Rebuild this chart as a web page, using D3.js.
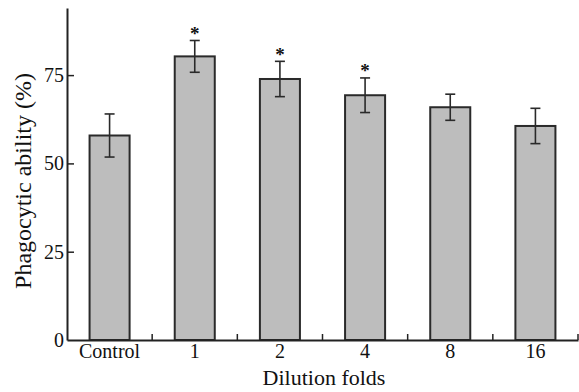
<!DOCTYPE html>
<html>
<head>
<meta charset="utf-8">
<script src="https://cdn.jsdelivr.net/npm/d3@7"></script>
<style>
  body { margin: 0; background: #fff; }
</style>
</head>
<body>
<svg id="chart" width="579" height="392"></svg>
<script>
// values
var categories = ["Control", "1", "2", "4", "8", "16"];
var means = [57.9, 80.3, 73.9, 69.3, 65.9, 60.6];
var errors = [6.1, 4.5, 5.0, 4.9, 3.7, 5.0];
var marked = [false, true, true, true, false, false];
var yTicks = [0, 25, 50, 75];

var serif = "'Liberation Serif', 'Times New Roman', 'DejaVu Serif', serif";

var rows = categories.map(function(c, i) {
  return { cat: c, mean: means[i], err: errors[i], star: marked[i] };
});

var svg = d3.select("#chart");

var x = d3.scaleBand()
    .domain(categories)
    .range([67, 578]);

var y = d3.scaleLinear()
    .domain([0, 94])
    .range([340, 8]);

var barW = x.bandwidth() * 0.47;
function cx(d) { return x(d.cat) + x.bandwidth() / 2; }

// bars
svg.selectAll("rect.bar")
    .data(rows)
    .enter().append("rect")
    .attr("class", "bar")
    .attr("x", function(d) { return cx(d) - barW / 2; })
    .attr("y", function(d) { return y(d.mean); })
    .attr("width", barW)
    .attr("height", function(d) { return y(0) - y(d.mean); })
    .attr("fill", "#bdbdbd")
    .attr("stroke", "#2a2a2a")
    .attr("stroke-width", 2);

// error bars
var eb = svg.selectAll("g.err")
    .data(rows)
    .enter().append("g")
    .attr("class", "err")
    .attr("stroke", "#2a2a2a")
    .attr("stroke-width", 1.6);

eb.append("line")
    .attr("x1", cx).attr("x2", cx)
    .attr("y1", function(d) { return y(d.mean + d.err); })
    .attr("y2", function(d) { return y(d.mean - d.err); });

eb.append("line")
    .attr("x1", function(d) { return cx(d) - 5; })
    .attr("x2", function(d) { return cx(d) + 5; })
    .attr("y1", function(d) { return y(d.mean + d.err); })
    .attr("y2", function(d) { return y(d.mean + d.err); });

eb.append("line")
    .attr("x1", function(d) { return cx(d) - 5; })
    .attr("x2", function(d) { return cx(d) + 5; })
    .attr("y1", function(d) { return y(d.mean - d.err); })
    .attr("y2", function(d) { return y(d.mean - d.err); });

// significance stars
svg.selectAll("text.star")
    .data(rows.filter(function(d) { return d.star; }))
    .enter().append("text")
    .attr("class", "star")
    .attr("x", cx)
    .attr("y", function(d) { return y(d.mean + d.err) - 0.5; })
    .attr("text-anchor", "middle")
    .style("font-family", serif)
    .style("font-size", "19px")
    .style("font-weight", "bold")
    .attr("fill", "#111")
    .text("*");

// y axis (ticks point inward)
var yAxis = svg.append("g")
    .attr("transform", "translate(67,0)")
    .call(d3.axisLeft(y).tickValues(yTicks).tickSizeInner(-7).tickSizeOuter(0).tickPadding(3));
yAxis.select(".domain").attr("stroke", "#222").attr("stroke-width", 2);
yAxis.selectAll(".tick line").attr("stroke", "#222").attr("stroke-width", 1.5);
yAxis.selectAll(".tick")
    .filter(function(d) { return d === 0; })
    .select("line").remove();
yAxis.selectAll("text")
    .style("font-family", serif)
    .style("font-size", "20px")
    .attr("fill", "#111");

// x axis, minor ticks at band edges pointing up
var xAxis = svg.append("g")
    .attr("transform", "translate(0,340)")
    .call(d3.axisBottom(x).tickSize(0).tickPadding(4));
xAxis.select(".domain").attr("stroke", "#222").attr("stroke-width", 2);
xAxis.selectAll("text")
    .style("font-family", serif)
    .style("font-size", "20px")
    .attr("fill", "#111");

svg.append("g").selectAll("line")
    .data(rows)
    .enter().append("line")
    .attr("x1", function(d) { return x(d.cat) + x.bandwidth(); })
    .attr("x2", function(d) { return x(d.cat) + x.bandwidth(); })
    .attr("y1", 340)
    .attr("y2", 334)
    .attr("stroke", "#222")
    .attr("stroke-width", 1.5);

// axis titles
svg.append("text")
    .attr("x", 324)
    .attr("y", 385)
    .attr("text-anchor", "middle")
    .style("font-family", serif)
    .style("font-size", "22px")
    .attr("fill", "#111")
    .text("Dilution folds");

svg.append("text")
    .attr("transform", "translate(31,181) rotate(-90)")
    .attr("text-anchor", "middle")
    .style("font-family", serif)
    .style("font-size", "24px")
    .attr("fill", "#111")
    .text("Phagocytic ability (%)");
</script>
</body>
</html>
